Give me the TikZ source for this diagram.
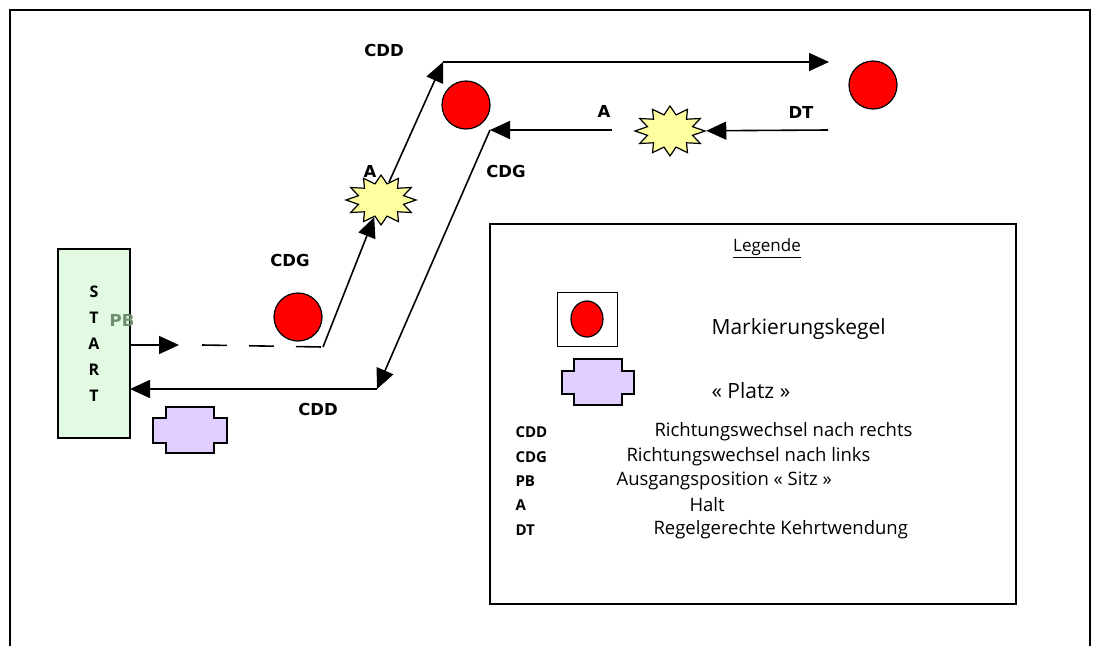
\documentclass[tikz,border=0pt]{standalone}
\usepackage{fontspec}
\setmainfont{Open Sans}
\newfontfamily\lblfont{DejaVu Sans}
\usetikzlibrary{arrows.meta,shapes.geometric}
\definecolor{startfill}{RGB}{226,250,226}
\definecolor{platzfill}{RGB}{224,206,255}
\definecolor{starfill}{RGB}{255,255,160}
\definecolor{pbcol}{RGB}{110,140,110}
\definecolor{conered}{RGB}{255,0,0}
\tikzset{
  cone/.style={circle, draw, fill=conered, minimum size=48pt, inner sep=0pt, line width=1.2pt},
  lbl/.style={font=\lblfont\bfseries\fontsize{16.5}{20}\selectfont},
  keylbl/.style={font=\bfseries\fontsize{15}{18}\selectfont},
  txt/.style={font=\fontsize{18.5}{22}\selectfont},
  flow/.style={line width=1.6pt, -{Triangle[length=20pt,width=18pt]}},
  plain/.style={line width=1.6pt},
  burst/.style={star, star points=12, star point ratio=1.5, draw, line width=1.2pt, fill=starfill, minimum size=50pt, inner sep=0pt, xscale=1.4, transform shape},
  startbox/.style={draw, line width=1.2pt, fill=startfill, minimum width=72pt, minimum height=189pt, align=center, font=\bfseries\fontsize{16}{26}\selectfont},
  platz/.style={draw, line width=1.4pt, fill=platzfill}
}
\begin{document}
\begin{tikzpicture}[x=1pt,y=-1pt]
\useasboundingbox (0,0) rectangle (1097,646);
% outer frame
\draw[line width=1.8pt] (10,646) -- (10,10) -- (1090,10) -- (1090,646);

% start box
\node[startbox] (start) at (94,343.5) {S\\T\\A\\R\\T};
\node[lbl, text=pbcol] (pb) at (122,320) {PB};

% path coordinates
\coordinate (p0) at (130,345);
\coordinate (p1) at (179,345);
\coordinate (d0) at (202,345);
\coordinate (d1) at (323,347);
\coordinate (c1) at (443,62);
\coordinate (c2) at (829,62);
\coordinate (c3) at (828,130);
\coordinate (a2) at (612,130);
\coordinate (c4) at (490,130);
\coordinate (c5) at (377,389);
\coordinate (c6) at (130,389);

% cones
\node[cone] (cone1) at (298,317) {};
\node[cone] (cone2) at (466,105) {};
\node[cone] (cone3) at (873,85) {};

% stars
\node[burst] (star1) at (381,200) {};
\node[burst] (star2) at (670,131) {};

% connectors
\draw[flow] (p0) -- (p1);
\draw[plain, dash pattern=on 25pt off 22pt] (d0) -- (d1);
\draw[flow] (d1) -- (star1);
\draw[flow] (star1) -- (c1);
\draw[flow] (c1) -- (c2);
\draw[flow] (c3) -- (star2);
\draw[flow] (a2) -- (c4);
\draw[flow] (c4) -- (c5);
\draw[flow] (c5) -- (c6);

% labels
\node[lbl] (lcdg1) at (290,260) {CDG};
\node[lbl] (la1) at (370,171) {A};
\node[lbl] (lcdd1) at (384,50) {CDD};
\node[lbl] (ldt) at (801,112) {DT};
\node[lbl] (la2) at (604,111) {A};
\node[lbl] (lcdg2) at (506,171) {CDG};
\node[lbl] (lcdd2) at (318,409) {CDD};

% platz
\draw[platz] (166,407) -- (214,407) -- (214,418) -- (227,418) -- (227,443) -- (214,443) -- (214,453) -- (166,453) -- (166,443) -- (153,443) -- (153,418) -- (166,418) -- cycle;

% legend
\draw[line width=1.4pt] (490,224) rectangle (1016,604);
\node[font=\fontsize{17}{20}\selectfont] (leg) at (767,248) {\underline{Legende}};
\draw[line width=0.9pt] (557,292) rectangle (617,346);
\draw[line width=1.2pt, fill=conered] (587,319) ellipse [x radius=16, y radius=18];
\node[anchor=west, font=\fontsize{21}{24}\selectfont] (mk) at (708,329) {Markierungskegel};
\draw[platz] (574,359) -- (622,359) -- (622,371) -- (634,371) -- (634,394) -- (622,394) -- (622,405) -- (574,405) -- (574,394) -- (562,394) -- (562,371) -- (574,371) -- cycle;
\node[anchor=west, font=\fontsize{21}{24}\selectfont] (pl) at (708,391) {« Platz »};

\node[keylbl, anchor=west] (k1) at (512,432) {CDD};
\node[keylbl, anchor=west] (k2) at (512,457) {CDG};
\node[keylbl, anchor=west] (k3) at (512,481) {PB};
\node[keylbl, anchor=west] (k4) at (512,505) {A};
\node[keylbl, anchor=west] (k5) at (512,530) {DT};
\node[txt, anchor=west] (v1) at (651,432) {Richtungswechsel nach rechts};
\node[txt, anchor=west] (v2) at (623,457) {Richtungswechsel nach links};
\node[txt, anchor=west] (v3) at (613,481) {Ausgangsposition « Sitz »};
\node[txt, anchor=west] (v4) at (686,505) {Halt};
\node[txt, anchor=west] (v5) at (650,530) {Regelgerechte Kehrtwendung};
\end{tikzpicture}
\end{document}
